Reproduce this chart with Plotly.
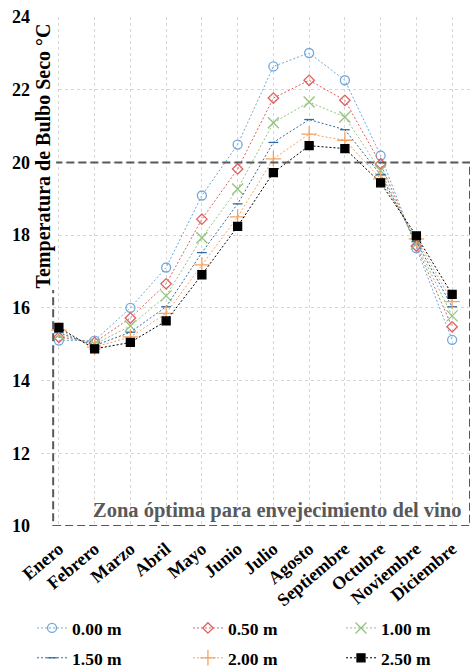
import plotly.graph_objects as go

months = ["Enero", "Febrero", "Marzo", "Abril", "Mayo", "Junio", "Julio",
          "Agosto", "Septiembre", "Octubre", "Noviembre", "Diciembre"]

depth_labels = ["0.00 m", "0.50 m", "1.00 m", "1.50 m", "2.00 m", "2.50 m"]

t_000 = [15.10, 15.10, 16.00, 17.11, 19.09, 20.49, 22.64, 23.01, 22.26, 20.19, 17.64, 15.12]
t_050 = [15.19, 15.05, 15.72, 16.66, 18.44, 19.82, 21.77, 22.26, 21.71, 19.96, 17.70, 15.48]
t_100 = [15.26, 15.00, 15.50, 16.33, 17.93, 19.27, 21.09, 21.66, 21.25, 19.77, 17.76, 15.78]
t_150 = [15.32, 14.96, 15.33, 16.03, 17.52, 18.86, 20.55, 21.18, 20.90, 19.66, 17.82, 16.03]
t_200 = [15.39, 14.92, 15.20, 15.85, 17.18, 18.50, 20.10, 20.78, 20.61, 19.55, 17.90, 16.17]
t_250 = [15.46, 14.87, 15.05, 15.64, 16.91, 18.24, 19.72, 20.46, 20.38, 19.44, 17.98, 16.37]

series = [t_000, t_050, t_100, t_150, t_200, t_250]
colors = ["#6fa8dc", "#e06060", "#93c47d", "#2f6aa3", "#f4a261", "#000000"]
symbols = ["circle-open", "diamond-open", "x-thin-open", "line-ew-open", "cross-thin-open", "square"]
sizes = [9, 8, 11, 7, 11, 8]

y_ticks = [10, 12, 14, 16, 18, 20, 22, 24]
zone_label = "Zona óptima para envejecimiento del vino"
y_title = "Temperatura de Bulbo Seco °C"

FONT = "Liberation Serif"

fig = go.Figure()
for i, (name, vals) in enumerate(zip(depth_labels, series)):
    fig.add_trace(go.Scatter(
        x=months, y=vals, name=name, mode="lines+markers",
        line=dict(color=colors[i], width=1, dash="2px,2px"),
        marker=dict(symbol=symbols[i], size=sizes[i], color=colors[i],
                    line=dict(color=colors[i], width=1.3)),
        legend="legend" if i == 0 else f"legend{i+1}",
    ))

# legend positions (one legend per entry, 3 columns x 2 rows), container coords
leg_x = [0.0680, 0.3990, 0.7240]
leg_y = [0.0640, 0.0195]
legend_layouts = {}
for i in range(6):
    key = "legend" if i == 0 else f"legend{i+1}"
    legend_layouts[key] = dict(
        x=leg_x[i % 3], y=leg_y[i // 3], xref="container", yref="container",
        xanchor="left", yanchor="middle",
        orientation="h", bgcolor="rgba(0,0,0,0)",
        font=dict(family=FONT, size=17.5, color="black", weight="bold"),
    )

fig.add_shape(type="rect", xref="x", yref="y", x0=-0.16, x1=11.5, y0=10, y1=20,
              line=dict(color="#595959", width=2, dash="8px,4px"), layer="above")

fig.add_annotation(text=zone_label, xref="paper", yref="paper", x=0.551, y=0.031,
                   showarrow=False, xanchor="center", yanchor="middle",
                   font=dict(family=FONT, size=20.5, color="#595959", weight="bold"))

fig.add_annotation(text=y_title, xref="paper", yref="paper", x=0.006, y=0.727,
                   textangle=-90, showarrow=False, xanchor="center", yanchor="middle",
                   bgcolor="white",
                   font=dict(family=FONT, size=20, color="black", weight="bold"))

fig.update_layout(
    width=471, height=671,
    margin=dict(l=41, r=1, t=17, b=145, autoexpand=False),
    plot_bgcolor="white", paper_bgcolor="white",
    showlegend=True,
    **legend_layouts,
)
fig.update_xaxes(
    type="category", categoryorder="array", categoryarray=months,
    range=[-0.5, 11.5], tickangle=-40, automargin=False,
    showgrid=True, gridcolor="#d6d6d6", griddash="dot", gridwidth=1,
    showline=False, zeroline=False, ticks="", ticklabelstandoff=8,
    tickfont=dict(family=FONT, size=18, color="black", weight="bold"),
)
fig.update_yaxes(
    range=[10, 24], tickvals=y_ticks, automargin=False,
    showgrid=True, gridcolor="#d6d6d6", griddash="dot", gridwidth=1,
    showline=False, zeroline=False, ticks="", ticklabelstandoff=10,
    tickfont=dict(family=FONT, size=18, color="black", weight="bold"),
)

fig.write_html("out.html")
